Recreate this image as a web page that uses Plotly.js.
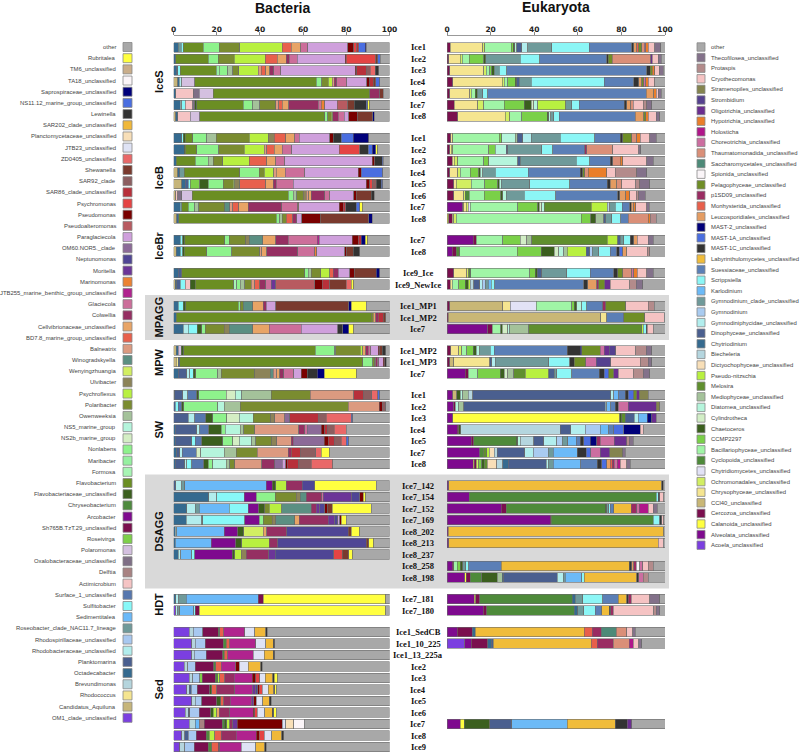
<!DOCTYPE html>
<html>
<head>
<meta charset="utf-8">
<script src="https://cdn.plot.ly/plotly-3.0.1.min.js"></script>
<style>
  html, body { margin: 0; padding: 0; background: #fff; }
  #chart { width: 800px; height: 752px; }
</style>
</head>
<body>
<div id="chart"></div>
<script>
// ---- Taxa, in legend order (top to bottom). Bars stack them in reverse order. ----
const bacNames = ['other', 'Rubritalea', 'TM6_unclassified', 'TA18_unclassified', 'Saprospiraceae_unclassified',
  'NS11.12_marine_group_unclassified', 'Lewinella', 'SAR202_clade_unclassified', 'Planctomycetaceae_unclassified',
  'JTB23_unclassified', 'ZD0405_unclassified', 'Shewanella', 'SAR92_clade', 'SAR86_clade_unclassified',
  'Psychromonas', 'Pseudomonas', 'Pseudoalteromonas', 'Paraglaciecola', 'OM60.NOR5._clade', 'Neptunomonas',
  'Moritella', 'Marinomonas', 'JTB255_marine_benthic_group_unclassified', 'Glaciecola', 'Colwellia',
  'Cellvibrionaceae_unclassified', 'BD7.8_marine_group_unclassified', 'Balneatrix', 'Winogradskyella',
  'Wenyingzhuangia', 'Ulvibacter', 'Psychroflexus', 'Polaribacter', 'Owenweeksia', 'NS5_marine_group',
  'NS2b_marine_group', 'Nonlabens', 'Maribacter', 'Formosa', 'Flavobacterium', 'Flavobacteriaceae_unclassified',
  'Chryseobacterium', 'Arcobacter', 'Sh765B.TzT.29_unclassified', 'Roseivirga', 'Polaromonas',
  'Oxalobacteraceae_unclassified', 'Delftia', 'Actimicrobium', 'Surface_1_unclassified', 'Sulfitobacter',
  'Sedimentitalea', 'Roseobacter_clade_NAC11.7_lineage', 'Rhodospirillaceae_unclassified',
  'Rhodobacteraceae_unclassified', 'Planktomarina', 'Octadecabacter', 'Brevundimonas', 'Rhodococcus',
  'Candidatus_Aquiluna', 'OM1_clade_unclassified'];
const bacKeys = ['oth', 'Rubri', 'TM6', 'TA18', 'Sapro', 'NS11', 'Lewi', 'S202', 'Planc', 'JTB23', 'ZD', 'Shew',
  'S92', 'S86', 'Psyro', 'Pmon', 'Palt', 'Parag', 'OM60', 'Nept', 'Mori', 'Marin', 'JTB255', 'Glac', 'Colw',
  'Cellv', 'BD78', 'Balne', 'Wino', 'Weny', 'Ulvi', 'Psyfl', 'Polar', 'Owen', 'NS5', 'NS2b', 'Nonl', 'Mari',
  'Form', 'Flavo', 'FlavU', 'Chrys', 'Arco', 'Sh765', 'Rosv', 'Polm', 'Oxal', 'Delf', 'Acti', 'Surf', 'Sulf',
  'Sedi', 'NAC', 'Rspir', 'Rbact', 'Plank', 'Octa', 'Brev', 'Rcoc', 'Aqui', 'OM1'];
const bacColors = ['#a8a8a8', '#ffff40', '#c9ad8a', '#fbf5f8', '#00007a', '#4a6ee0', '#333333', '#f0b83a',
  '#f8dfb8', '#dfe3f5', '#e96868', '#7a3a2e', '#8c5e60', '#b8303a', '#e44444', '#7a0000', '#b85a60', '#cfa0dc',
  '#8c6a98', '#4f4595', '#6c3598', '#ec8232', '#b0238e', '#cc6e9a', '#952f62', '#e8a466', '#e8604c', '#dc9a80',
  '#5b8f82', '#d2ee62', '#8c8358', '#b8f040', '#7a8c30', '#a4c29a', '#b5f5dc', '#d4eec4', '#8ef28c', '#96f0a0',
  '#a8f5b4', '#6b8e23', '#3b5f1e', '#4e8a3e', '#7e0a8e', '#7a0f4e', '#7ed04a', '#d4c0e0', '#7f6f86', '#a88282',
  '#f5c4c4', '#5677ae', '#88f8f8', '#6ab9f8', '#6f9a9a', '#a8c8f0', '#b2eded', '#4a5f8f', '#356a8f', '#b5d5dd',
  '#f5e590', '#c6b57a', '#7b3fe0'];

const eukNames = ['other', 'Thecofilosea_unclassified', 'Protaspis', 'Cryothecomonas', 'Stramenopiles_unclassified',
  'Strombidium', 'Oligotrichia_unclassified', 'Hypotrichia_unclassified', 'Holosticha',
  'Choreotrichia_unclassified', 'Thaumatomonadida_unclassified', 'Saccharomycetales_unclassified',
  'Spionida_unclassified', 'Pelagophyceae_unclassified', 'p1SD09_unclassified', 'Monhysterida_unclassified',
  'Leucosporidiales_unclassified', 'MAST-2_unclassified', 'MAST-1A_unclassified', 'MAST-1C_unclassified',
  'Labyrinthulomycetes_unclassified', 'Suessiaceae_unclassified', 'Scrippsiella', 'Karlodinium',
  'Gymnodinium_clade_unclassified', 'Gymnodinium', 'Gymnodiniphycidae_unclassified', 'Dinophyceae_unclassified',
  'Chytriodinium', 'Biecheleria', 'Dictyochophyceae_unclassified', 'Pseudo-nitzschia', 'Melosira',
  'Mediophyceae_unclassified', 'Diatomea_unclassified', 'Cylindrotheca', 'Chaetoceros', 'CCMP2297',
  'Bacillariophyceae_unclassified', 'Cyclopoida_unclassified', 'Chytridiomycetes_unclassified',
  'Ochromonadales_unclassified', 'Chrysophyceae_unclassified', 'CCl40_unclassified', 'Cercozoa_unclassified',
  'Calanoida_unclassified', 'Alveolata_unclassified', 'Acoela_unclassified'];
const eukKeys = ['oth', 'Theco', 'Prota', 'Cryo', 'Stram', 'Stromb', 'Oligo', 'Hypo', 'Holo', 'Chore', 'Thaum',
  'Sacch', 'Spion', 'Pelag', 'p1SD', 'Monh', 'Leuco', 'M2', 'M1A', 'M1C', 'Laby', 'Suess', 'Scrip', 'Karlo',
  'GymC', 'Gym', 'GymP', 'Dino', 'Chyd', 'Biech', 'Dicty', 'PsNi', 'Melo', 'Medio', 'Diat', 'Cyli', 'Chaet',
  'CCMP', 'Bacil', 'Cyclo', 'Chytm', 'Ochro', 'Chryso', 'CCl40', 'Cerco', 'Calan', 'Alveo', 'Acoel'];
const eukColors = ['#a8a8a8', '#83718a', '#b38b8b', '#f5c3c3', '#84844f', '#55418f', '#6b2e90', '#ea7e2a',
  '#b0168a', '#cc6ea0', '#da8f78', '#4d8a78', '#faf5f8', '#6f8e26', '#9a2c62', '#e85f4b', '#e49c62', '#00007a',
  '#4a6ee0', '#333333', '#f0bc3a', '#5b7fb6', '#8cf6f6', '#6cbaf7', '#6f9a9a', '#a9cbf0', '#b2eeee', '#4a5f8f',
  '#356a8f', '#b5d6df', '#f8dfb8', '#b8f040', '#5f8f2e', '#a4c29a', '#b5f5dc', '#d2eec6', '#3b5f1e', '#7ad048',
  '#a0f5a6', '#4e8a3a', '#e2e2f6', '#d2ee62', '#f5e590', '#c9b776', '#7a0f4e', '#ffff40', '#7e0a8e', '#7b3fe0'];

// ---- Sample groups ----
const groupNames = ['IceS', 'IceB', 'IceBr', '', 'MPAGG', 'MPW', 'SW', 'DSAGG', 'HDT', 'Sed'];
const shadedGroups = ['MPAGG', 'DSAGG'];
const samplesIceS = ['Ice1', 'Ice2', 'Ice3', 'Ice4', 'Ice6', 'Ice7', 'Ice8'];
const samplesIceB = ['Ice1', 'Ice2', 'Ice3', 'Ice4', 'Ice5', 'Ice6', 'Ice7', 'Ice8'];
const samplesIceBr = ['Ice7', 'Ice8'];
const samplesIce9 = ['Ice9_Ice', 'Ice9_NewIce'];
const samplesMPAGG = ['Ice1_MP1', 'Ice1_MP2', 'Ice7'];
const samplesMPW = ['Ice1_MP2', 'Ice1_MP3', 'Ice7'];
const samplesSW = ['Ice1', 'Ice2', 'Ice3', 'Ice4', 'Ice5', 'Ice7', 'Ice8'];
const samplesDSAGG = ['Ice7_142', 'Ice7_154', 'Ice7_152', 'Ice7_169', 'Ice8_202', 'Ice8_213', 'Ice8_237', 'Ice8_258', 'Ice8_198'];
const samplesHDT = ['Ice7_181', 'Ice7_180'];
const samplesSed = ['Ice1_SedCB', 'Ice1_10_225', 'Ice1_13_225a', 'Ice2', 'Ice3', 'Ice4', 'Ice5', 'Ice6', 'Ice7', 'Ice8', 'Ice9'];
const groupSamples = [samplesIceS, samplesIceB, samplesIceBr, samplesIce9, samplesMPAGG, samplesMPW,
  samplesSW, samplesDSAGG, samplesHDT, samplesSed];

// ---- Bacteria relative abundance (%), one object per sample, null = no data ----
const bacIceS = [
  {Octa: 2.3, Sulf: 1, NAC: 1.2, Flavo: 9.2, Nonl: 7.4, Polar: 9.5, Psyfl: 19.7, BD78: 4.2, Cellv: 4.3, Glac: 3.4, Parag: 18.5, Pmon: 2.8, Psyro: 1.4, S86: 0.9, NS11: 3, Sapro: 0.4, oth: 10.8},
  {Octa: 1, Flavo: 15, Nonl: 4.6, Polar: 7.4, Psyfl: 14.5, BD78: 5.4, Cellv: 4.3, Colw: 1.2, Glac: 3.8, Parag: 22.2, Pmon: 0.5, Psyro: 13.5, Shew: 1, NS11: 1.2, oth: 4.2},
  {Octa: 1.2, Plank: 0.8, Sulf: 1, Flavo: 16.5, Mari: 1.5, Nonl: 3.8, Owen: 2.3, Polar: 2.6, Psyfl: 9, Balne: 1.5, BD78: 2, Cellv: 1.8, Colw: 1.8, Glac: 3.2, Parag: 34, Pmon: 0.8, S86: 4.6, S92: 1.5, ZD: 2.3, Lewi: 1.5, oth: 5},
  {Aqui: 2, Octa: 0.6, Rbact: 1.2, Polm: 6, Flavo: 56, Nonl: 2.6, Polar: 3, Psyfl: 1.8, Balne: 1, Colw: 1, Glac: 4.6, Parag: 9.2, Pmon: 1.5, S86: 1.5, Shew: 1.2, NS11: 1.8, oth: 4.6},
  {Octa: 1, Acti: 8.2, Oxal: 2.6, Polm: 6.6, Flavo: 72.3, Colw: 4.6, Shew: 1.5, oth: 3},
  {Octa: 3, Sulf: 1.5, Rbact: 0.8, Acti: 3.5, Oxal: 1, FlavU: 0.8, Flavo: 21.5, Nonl: 4.3, Owen: 3.4, Polar: 7.4, Balne: 1.2, BD78: 1.8, Cellv: 3, Colw: 13.4, Glac: 1.5, Marin: 1.5, Parag: 5.8, Palt: 4.9, Shew: 3, Lewi: 5.4, NS11: 0.8, Rubri: 0.8, oth: 9.2},
  {Aqui: 1, Octa: 1, Acti: 5.8, Polm: 4.3, Flavo: 58, Nonl: 1.5, Polar: 1.5, Psyfl: 0.8, Colw: 2.6, Glac: 2.8, Parag: 2, Pmon: 4.2, Shew: 6.9, Sapro: 0.8, oth: 7}
];
const bacIceB = [
  {Octa: 3.8, Sulf: 0.8, FlavU: 0.8, Flavo: 3.5, Nonl: 6.5, Owen: 4.3, Polar: 15.4, Psyfl: 8.8, Ulvi: 2.8, BD78: 5.2, Cellv: 4.3, Glac: 2, Parag: 14.2, Pmon: 1.5, Lewi: 3.8, NS11: 5.4, Sapro: 7.2, oth: 9.7},
  {Octa: 4.9, FlavU: 0.5, Flavo: 5.4, Nonl: 10, Polar: 11.8, Psyfl: 9.2, Balne: 1.2, BD78: 3.5, Cellv: 3.8, Glac: 4.2, Parag: 22, Psyro: 9.5, Lewi: 3.8, NS11: 2, Sapro: 1.5, Rubri: 1, oth: 5.4},
  {Octa: 1.2, Flavo: 8.8, Nonl: 6.2, Owen: 2.3, Polar: 4.3, Psyfl: 12.3, BD78: 8, Cellv: 4.2, Glac: 4.3, Parag: 40.5, Pmon: 1, Lewi: 3.5, NS11: 0.6, oth: 2.8},
  {Aqui: 2, Octa: 1, NAC: 2, Flavo: 25.7, Nonl: 9, Polar: 2.3, Psyfl: 4.5, Balne: 1, Cellv: 4.2, Glac: 9.2, Parag: 24.6, Pmon: 1.5, NS11: 10, oth: 3.1},
  {Aqui: 3.8, Octa: 1.5, Plank: 1.5, Sulf: 0.8, Rosv: 4.6, FlavU: 3.8, Nonl: 6.9, Polar: 4.6, Psyfl: 0.8, Ulvi: 2.3, BD78: 11.8, Cellv: 3.5, Colw: 1.5, Glac: 7.7, Parag: 33.8, Pmon: 1.5, Psyro: 1.2, S92: 1.8, Lewi: 2.3, NS11: 0.8, oth: 3},
  {Aqui: 1, Acti: 0.9, Oxal: 1.8, Polm: 5, Flavo: 44, Nonl: 2.3, Owen: 1.5, Polar: 3, Ulvi: 1.5, Balne: 1.2, Cellv: 1, Colw: 6.2, Glac: 2.3, Parag: 11, Pmon: 1.2, Shew: 6.9, Lewi: 1.5, oth: 6.9},
  {Octa: 3, Sulf: 0.8, Flavo: 3, Nonl: 3, Owen: 1.8, Polar: 12, Wino: 2.3, Balne: 1.5, BD78: 2.8, Cellv: 4.2, Colw: 15.4, Glac: 7.4, Marin: 0.6, Parag: 18.6, Pmon: 1.8, S86: 1.2, Lewi: 4.9, NS11: 1.5, Rubri: 1.5, oth: 12.3},
  {Aqui: 1.5, Octa: 1, Flavo: 45, Nonl: 1.5, Owen: 1.2, Polar: 1.8, BD78: 3, Colw: 2, Parag: 2.2, Pmon: 8.5, Shew: 22.5, Sapro: 1.5, oth: 8}
];
const bacIceBr = [
  {Octa: 3, Sulf: 1.2, FlavU: 1, Flavo: 18.5, Nonl: 2, Polar: 7.7, Ulvi: 1.5, Wino: 6.2, Cellv: 6.2, Colw: 5.7, Glac: 13.4, JTB255: 0.8, Parag: 15.2, Pmon: 2.8, S86: 1.5, Sapro: 1.8, Rubri: 1.2, oth: 10},
  {Aqui: 1.2, Octa: 1.8, Sulf: 1.2, FlavU: 0.8, Flavo: 10.3, Nonl: 11.5, Polar: 13, Balne: 0.8, Cellv: 2.3, Colw: 14.3, Glac: 8, Marin: 0.8, Parag: 13, Pmon: 0.8, Shew: 3, Lewi: 3, oth: 13.8}
];
const bacIce9 = [
  {Octa: 2.3, Plank: 1.5, Flavo: 57, Nonl: 1.5, Owen: 1.5, Polar: 4.2, Psyfl: 4.3, BD78: 1.5, Colw: 2.3, Parag: 5.4, Pmon: 2.3, Shew: 10, Sapro: 1.5, oth: 4.6},
  {Aqui: 0.8, Octa: 0.8, Plank: 1.5, Sulf: 2.3, Acti: 2.3, FlavU: 2.3, Form: 1.5, Flavo: 17.7, Nonl: 1.5, Owen: 2.3, Polar: 3, Balne: 1.5, BD78: 2.3, Colw: 2.8, Glac: 2.6, Mori: 2, Palt: 18, Pmon: 3.5, S86: 3.4, Shew: 7.7, ZD: 2.3, Rubri: 1, oth: 16.6}
];
const bacMPAGG = [
  {Octa: 2.3, Sulf: 2.3, FlavU: 1, Flavo: 24.3, Nonl: 0.8, Polar: 1.5, Wino: 4.3, Cellv: 4.9, Colw: 1.5, Parag: 4.3, Shew: 33.8, Sapro: 1, Rubri: 6.9, oth: 10.8},
  {Octa: 1.2, Flavo: 90, Polar: 1, Cellv: 1.2, Colw: 1, S86: 2.3, Shew: 1.2, oth: 1.8},
  {Octa: 4.6, Rbact: 2.3, Sulf: 4.2, FlavU: 2, Nonl: 1.5, Polar: 8.9, Ulvi: 2.3, Wino: 10.8, Cellv: 7.7, Glac: 14.9, Parag: 16.9, Lewi: 2.3, Sapro: 2.8, Rubri: 2.3, oth: 16.5}
];
const bacMPW = [
  {Aqui: 1.2, Octa: 1, Polm: 1.5, FlavU: 1, Flavo: 61, Nonl: 9, Owen: 0.5, Polar: 11.2, Psyfl: 1.2, Cellv: 1.5, Colw: 1, Glac: 1.2, Parag: 3.4, Pmon: 0.8, Shew: 1.2, Lewi: 1.5, oth: 1.8},
  {Aqui: 1.2, Octa: 0.8, Rcoc: 1, Flavo: 85, Nonl: 4.8, Polar: 0.8, Cellv: 0.5, Colw: 0.8, Glac: 0.5, Parag: 2.3, Pmon: 0.5, Lewi: 0.8, oth: 1.5},
  {Octa: 2.3, Plank: 3.8, Rbact: 1.5, Sulf: 1.5, FlavU: 1.2, Nonl: 10, Owen: 1.8, Polar: 15.4, Ulvi: 7, Wino: 1.5, Balne: 1.5, Cellv: 1.5, Colw: 1.8, Glac: 4.6, Parag: 3.4, Pmon: 2.8, Lewi: 4.6, Sapro: 3.4, Rubri: 15, oth: 15}
];
const bacSW = [
  {Octa: 0.5, Plank: 3.8, Rbact: 2.2, Surf: 4.3, FlavU: 0.8, Nonl: 12.8, NS2b: 4.2, NS5: 3, Owen: 13.5, Polar: 18, Balne: 20, S86: 4.6, S92: 3.8, ZD: 2.8, NS11: 0.8, oth: 4.6},
  {Plank: 0.8, Sulf: 1.5, Surf: 1.5, FlavU: 1, Nonl: 15.7, NS5: 3, Owen: 7.4, Polar: 50, Balne: 14.2, Pmon: 1.5, S92: 1.5, oth: 1.8},
  {Plank: 6.9, Rbact: 3, Surf: 4.9, FlavU: 3.2, Nonl: 6.5, NS2b: 5.8, NS5: 6.5, Polar: 8, Ulvi: 2, Balne: 4.6, OM60: 2.3, S86: 13, S92: 3.8, ZD: 11.5, NS11: 0.8, oth: 16.9},
  {Octa: 0.8, Plank: 10, Rbact: 1.2, Surf: 4.2, FlavU: 5.8, Nonl: 1.8, NS5: 6.9, Owen: 1.8, Polar: 5, Balne: 20.3, Colw: 2.8, Glac: 1, OM60: 6.6, Pmon: 1.5, S86: 1.5, S92: 3, ZD: 5.4, oth: 20},
  {Octa: 0.8, Plank: 7.7, Sulf: 1.5, Surf: 3, FlavU: 9.7, Nonl: 4.6, NS2b: 3, NS5: 5.7, Owen: 2, Polar: 7.2, Ulvi: 2.3, Balne: 6.9, Colw: 0.8, OM60: 14.3, Pmon: 1.8, S86: 3, S92: 3, ZD: 2.3, NS11: 1.2, oth: 18.8},
  {Octa: 1.5, Plank: 1.5, Rbact: 1, Surf: 6.6, NS2b: 2, NS5: 10.8, Owen: 5.7, Polar: 9.7, Balne: 14.2, Colw: 1.5, S86: 4.3, S92: 6.9, ZD: 2.6, Rubri: 3.8, oth: 27.7},
  {Octa: 0.8, Plank: 4.3, Rbact: 1, Sulf: 2.3, Surf: 5.7, FlavU: 2, Nonl: 2, NS5: 6.2, Owen: 1.8, Polar: 2.3, Balne: 12.3, Colw: 6.2, OM60: 3.5, Parag: 1.5, Pmon: 0.6, S86: 5.5, S92: 5.7, ZD: 10, oth: 26.2}
];
const bacDSAGG = [
  {Plank: 1, Rbact: 2.8, NAC: 1.5, Sedi: 37.7, Arco: 2.8, FlavU: 1.5, Psyfl: 4.9, Colw: 7.4, Nept: 5.7, Rubri: 28.5, oth: 6.2},
  {Octa: 16.2, Rbact: 3.8, Sulf: 12.6, Arco: 5.5, Nonl: 8.8, Polar: 9.7, Ulvi: 1.8, Wino: 2.8, Colw: 7.2, Glac: 0.8, Mori: 13, Nept: 3.8, Pmon: 1.5, Rubri: 1.2, oth: 11},
  {Octa: 6.2, Rbact: 3.8, NAC: 1.8, Sedi: 14, Sulf: 8.8, Arco: 4.9, FlavU: 2.8, Polar: 2, Psyfl: 5.7, Wino: 13.8, Colw: 2.3, Mori: 1.5, Nept: 2.3, Pmon: 1.5, Shew: 2, Rubri: 18, oth: 8.5},
  {Octa: 5.8, Rbact: 7.2, NAC: 0.5, Sulf: 19.5, Arco: 6.6, Nonl: 1.8, Polar: 4.3, Ulvi: 1.5, Wino: 8.8, Cellv: 2, Colw: 13.4, Mori: 3, Nept: 1.5, Parag: 0.8, Pmon: 0.8, Rubri: 2.3, oth: 20},
  {Octa: 0.8, Rbact: 0.8, Sedi: 21.8, Arco: 6.2, FlavU: 2.8, Weny: 9.2, Cellv: 1.5, Colw: 9.2, Nept: 28.5, Shew: 1.5, Rubri: 3.8, oth: 13.8},
  {Octa: 0.8, Sedi: 16.6, Arco: 11.4, FlavU: 2.8, Psyfl: 12.8, Colw: 3.8, Nept: 41, Shew: 1.2, Rubri: 2.2, oth: 7.4},
  {Octa: 2.3, Rbact: 1, Sedi: 5, Sulf: 1.5, Arco: 17.2, FlavU: 1.2, Psyfl: 3, Ulvi: 2.3, Colw: 10.5, Mori: 3, Nept: 27, Psyro: 3.8, Shew: 3, Rubri: 1.8, oth: 17},
  null,
  null
];
const bacHDT = [
  {Octa: 1, Rbact: 1.5, NAC: 3.4, Sedi: 33.6, Sh765: 2.3, Rubri: 56.8, oth: 1.8},
  {OM1: 1, Rbact: 1, NAC: 0.8, Sedi: 6.5, Sulf: 0.8, Sh765: 1.8, Rubri: 86.6, oth: 1.8}
];
const bacSed = [
  {OM1: 7.2, Brev: 2, Rspir: 4.3, Sh765: 7.2, Chrys: 0.8, BD78: 1.8, JTB255: 9.7, JTB23: 4.6, S202: 5, Lewi: 0.8, oth: 56.5},
  {OM1: 8.5, Brev: 1.5, Rspir: 4.6, Sh765: 8.5, Chrys: 1.2, BD78: 1.8, JTB255: 12, JTB23: 4.6, S202: 3.4, Lewi: 0.8, oth: 53},
  {OM1: 8.5, Brev: 1.2, Rspir: 5.4, Sh765: 7.7, Chrys: 0.6, BD78: 1.7, JTB255: 11.8, JTB23: 5, S202: 4.2, Lewi: 0.8, oth: 53},
  {OM1: 4.9, Brev: 1.7, Rspir: 3.4, Sh765: 8.5, Chrys: 1, BD78: 2.5, JTB255: 6.9, Pmon: 1.5, JTB23: 4.2, S202: 5.8, Lewi: 0.6, oth: 58.9},
  {OM1: 7.4, Brev: 1.5, Rspir: 3.4, Rosv: 1, Sh765: 6.2, Chrys: 1, Psyfl: 1, BD78: 2.3, Colw: 4.3, JTB255: 8.5, Pmon: 1.5, Psyro: 2, JTB23: 2.6, S202: 3.5, Lewi: 0.6, Rubri: 1.5, oth: 52},
  {OM1: 6.2, Brev: 1, Rspir: 2.8, Plank: 1, Sh765: 5.8, FlavU: 0.8, BD78: 2.3, Colw: 8.3, JTB255: 8.5, Mori: 1.2, Nept: 1, Pmon: 0.8, Psyro: 1.2, JTB23: 2.8, S202: 2.6, Lewi: 0.5, Rubri: 1, oth: 52},
  {OM1: 8.5, Brev: 1.5, Rspir: 3, Sh765: 7, FlavU: 1.8, BD78: 1.5, Colw: 2.8, JTB255: 10, Mori: 1, Pmon: 1, JTB23: 3, S202: 3, Lewi: 1, oth: 54.6},
  {OM1: 5.4, Brev: 1.5, Rspir: 4.3, Plank: 0.6, Sh765: 5.4, FlavU: 1.2, Psyfl: 1.5, Cellv: 1.2, Colw: 4.9, JTB255: 10.8, Pmon: 0.8, Psyro: 1.2, JTB23: 3.4, S202: 3.5, Lewi: 0.6, Rubri: 1.2, oth: 52.3},
  {OM1: 7.2, Brev: 2.8, Sedi: 1.8, Delf: 2.3, Sh765: 8.2, Chrys: 1, FlavU: 1.2, Psyfl: 1.2, Colw: 1.5, Mori: 2, Pmon: 20.8, JTB23: 1.5, Planc: 3.7, TA18: 4.9, oth: 39},
  {OM1: 3.8, Brev: 1.5, Rspir: 3.8, Plank: 1.5, Sh765: 4.6, Chrys: 1.2, Psyfl: 2.6, BD78: 3, Colw: 6.9, JTB255: 9.2, Pmon: 1.5, Psyro: 2.3, JTB23: 3.5, S202: 4.6, Lewi: 0.8, oth: 48.8},
  {OM1: 3, Brev: 2.3, Rspir: 4.2, Sh765: 6.6, Chrys: 1.5, BD78: 3, Colw: 0.8, JTB255: 10, JTB23: 6.6, S202: 4.2, Lewi: 0.8, oth: 57}
];
const bacGroups = [bacIceS, bacIceB, bacIceBr, bacIce9, bacMPAGG, bacMPW, bacSW, bacDSAGG, bacHDT, bacSed];

// ---- Eukaryota relative abundance (%) ----
const eukIceS = [
  {Cerco: 1.5, Chryso: 14.8, Ochro: 0.9, Bacil: 12.2, CCMP: 1, Chaet: 0.5, Diat: 1, Dino: 2.3, GymP: 2.8, GymC: 11, Scrip: 17.1, Suess: 19.5, M1C: 0.8, Pelag: 1.5, Leuco: 1.5, Monh: 0.8, Thaum: 1, Hypo: 1.2, Chore: 0.8, Cryo: 3, Theco: 2.6, oth: 2},
  {Cerco: 0.8, Chryso: 5.3, Ochro: 0.8, Bacil: 3.4, CCMP: 6.6, Chaet: 0.8, GymC: 16, Scrip: 8.9, Suess: 30.8, M1C: 0.8, Pelag: 1.8, Thaum: 17.6, Oligo: 0.8, Cryo: 2.8, Theco: 1.2, oth: 1.8},
  {Cerco: 1.2, Chryso: 15.6, Ochro: 1.2, Bacil: 1.5, CCMP: 1, Chaet: 1, GymC: 2.5, Scrip: 3.4, Suess: 64, M1C: 1.5, Pelag: 1, Hypo: 1.2, Cryo: 2, Theco: 1.8, oth: 0.8},
  {Cerco: 2.6, Chryso: 22.6, Ochro: 1, Bacil: 1.5, CCMP: 3.5, Chaet: 0.8, Dino: 1, GymC: 5.5, Scrip: 33.4, Suess: 13.4, M1C: 2.3, Pelag: 0.8, Leuco: 1.5, Hypo: 1.2, Chore: 1, Cryo: 3, oth: 4.6},
  {Cerco: 1.2, Chryso: 9.2, Ochro: 0.8, Bacil: 1.8, Chaet: 0.8, GymC: 2.6, Scrip: 2.3, Suess: 72.7, Leuco: 3.4, Hypo: 1.2, Cryo: 1, Theco: 1.2, oth: 1.8},
  {Cerco: 3.4, Chryso: 10.7, Ochro: 2.7, Bacil: 9.5, CCMP: 9.2, Chaet: 3, Cyli: 1.2, Diat: 1.8, PsNi: 13, GymC: 2.7, Scrip: 3.4, Suess: 20.6, M1C: 1.2, Leuco: 1.8, Thaum: 1.2, Cryo: 4.6, Prota: 1.5, Theco: 2.3, oth: 6.1},
  {Cerco: 4.9, Chryso: 21.8, Ochro: 2, Bacil: 5.6, CCMP: 11.5, Chaet: 0.8, Diat: 1, GymC: 1.2, Scrip: 2.7, Suess: 34.7, Leuco: 3.8, Pelag: 1, Hypo: 1.2, Cryo: 3.5, Theco: 1.8, oth: 2.3}
];
const eukIceB = [
  {Cerco: 1.8, Chryso: 0.8, Bacil: 21.4, CCMP: 1.2, Diat: 6.1, Medio: 0.8, Dino: 2.7, GymP: 3.8, GymC: 13.3, Scrip: 15.7, Suess: 11.8, M1C: 1.2, Pelag: 4.1, Thaum: 2.3, Hypo: 1.5, Cryo: 4.3, Theco: 3, oth: 4.1},
  {Cerco: 1.2, Chryso: 0.8, Ochro: 0.6, Bacil: 16.5, CCMP: 3, Diat: 5, Dino: 0.6, GymC: 15.7, Scrip: 4.9, Suess: 14.7, p1SD: 1, Thaum: 11.8, Cryo: 11.9, Theco: 1, oth: 11.1},
  {Cerco: 2.3, Chryso: 1, Ochro: 1.5, Bacil: 11.9, CCMP: 2.3, Diat: 13.3, Dino: 1.2, GymC: 25.6, Scrip: 6.1, Suess: 9.5, M1C: 1, Thaum: 3.5, Hypo: 1.2, Cryo: 11, Theco: 3, oth: 5.3},
  {Cerco: 1.2, Chryso: 3.7, Ochro: 1.2, Bacil: 4.6, CCMP: 3.8, Chaet: 0.8, Diat: 1.2, GymC: 5.6, Scrip: 15.3, Suess: 24, M1C: 1, Pelag: 1, Thaum: 1.7, Hypo: 8.4, Cryo: 3.8, Prota: 10, Theco: 4.6, oth: 8.4},
  {Cerco: 3, Chryso: 1.2, Ochro: 6.9, Bacil: 6.1, CCMP: 6, Chaet: 0.8, Diat: 0.9, GymC: 13, Scrip: 18.3, Suess: 17.4, M1C: 1.2, Leuco: 3, Thaum: 2.3, Cryo: 6.4, Prota: 2, Theco: 4.6, oth: 6.9},
  {Cerco: 3, Chryso: 4.6, Ochro: 0.8, Cyclo: 1.8, Bacil: 6.9, CCMP: 7.6, Chaet: 0.9, Diat: 1.5, GymC: 8.2, Scrip: 14.5, Suess: 28.4, M1C: 1, Leuco: 2.7, Hypo: 1.8, Cryo: 3, Prota: 1.2, Theco: 3, oth: 9},
  {Alveo: 7.2, Calan: 0.5, Chryso: 1, Ochro: 1, Chytm: 0.8, Bacil: 21.7, CCMP: 8.9, Chaet: 0.8, Cyli: 1.2, Diat: 1.1, Melo: 21.4, PsNi: 7.2, Biech: 1, GymC: 2.7, Scrip: 3, Suess: 3.4, M1C: 0.8, Leuco: 1, Hypo: 1, Cryo: 4.9, Theco: 1.2, oth: 7.2},
  {Cerco: 1.5, Calan: 0.8, Chryso: 0.8, Ochro: 1.2, Bacil: 57, CCMP: 4.4, Chaet: 2.4, Medio: 3.7, Dino: 0.9, GymC: 2.7, Scrip: 4, Suess: 3.5, Thaum: 9.2, Hypo: 0.8, Prota: 2.7, oth: 4.1}
];
const eukIceBr = [
  {Alveo: 11.9, Cerco: 1.5, Bacil: 12.2, CCMP: 7.9, Cyli: 3, Medio: 2.3, Melo: 34.4, PsNi: 4.9, Dino: 1.2, GymC: 1.5, Scrip: 3, M1C: 1.5, Leuco: 1.8, Cryo: 5, Theco: 2.3, oth: 5.3},
  {Alveo: 2.3, Cerco: 2, Cyclo: 1.5, Bacil: 26.3, CCMP: 11, Chaet: 6.1, Cyli: 2, Diat: 2.3, Medio: 1.5, PsNi: 8.7, Dino: 1.7, Gym: 1, GymC: 3, Scrip: 5.3, Suess: 3, M1C: 1.2, M1A: 1.5, Leuco: 1.8, Cryo: 9.5, Prota: 1.2, oth: 6.9}
];
const eukIce9 = [
  {Cerco: 3, Chryso: 6.1, Ochro: 0.8, Cyclo: 1, Bacil: 26.9, CCMP: 2.6, Chaet: 1, Dino: 2, GymC: 11.5, Scrip: 10.7, Suess: 10.7, M1C: 1.8, Pelag: 2.4, Thaum: 4.1, Chore: 0.8, Hypo: 1.8, Cryo: 4.3, Theco: 3, oth: 5.3},
  {Cerco: 1.5, Chryso: 0.8, Bacil: 3, CCMP: 3, Chaet: 1.5, PsNi: 1, Biech: 1.5, Dino: 2.7, GymP: 1.2, Gym: 1.5, GymC: 1.2, Karlo: 1.5, Scrip: 1.5, Suess: 41, M1C: 1.8, Leuco: 4.2, Pelag: 2.6, p1SD: 1, Oligo: 2.7, Cryo: 8.9, Prota: 3, Theco: 3, oth: 10.2}
];
const eukMPAGG = [
  {Cerco: 1.2, CCl40: 24.4, Chryso: 3.4, Chytm: 11.9, Bacil: 16.3, CCMP: 1, Chaet: 1.2, Diat: 2.3, Scrip: 2.3, Suess: 7.3, Pelag: 9.2, p1SD: 1.4, Cryo: 10.4, Prota: 2.6, oth: 5},
  {Cerco: 0.5, CCl40: 70, Chryso: 2.7, Suess: 7.9, Pelag: 9.6, Cryo: 8.9, oth: 0.4},
  {Alveo: 18.6, Cerco: 2, Chaet: 0.8, Bacil: 3.8, Cyli: 2.4, Diat: 1, Medio: 8.5, Melo: 51.5, PsNi: 0.8, Scrip: 1.2, M1C: 0.6, Cryo: 2.7, oth: 5.3}
];
const eukMPW = [
  {Cerco: 1.8, Chryso: 3.5, Ochro: 1.5, Bacil: 2.3, CCMP: 3, Chaet: 1.2, Diat: 1.8, GymC: 4.6, Scrip: 2, Suess: 33.4, M1C: 5.8, M2: 0.8, Pelag: 8.4, Chore: 1.8, Oligo: 2.4, Stromb: 3, Cryo: 9.2, Prota: 4.6, Theco: 2.6, oth: 6.1},
  {Cerco: 1.2, CCl40: 1.8, Chryso: 16.5, Dino: 1, GymP: 1.5, GymC: 24.4, Scrip: 9.6, M1C: 2.1, Pelag: 5.3, Chore: 4.7, Stromb: 6.7, Cryo: 13.4, Prota: 3.8, Theco: 1.5, oth: 6.1},
  {Alveo: 8.4, Cerco: 1.2, Bacil: 4.4, CCMP: 10.4, Chaet: 1.8, Cyli: 1.5, Medio: 2.7, Melo: 5.3, PsNi: 10.7, Dino: 2.6, GymC: 1.2, Scrip: 6.8, Suess: 12.5, M1C: 2.3, M1A: 2, Pelag: 2.3, Oligo: 2, Cryo: 6.9, Prota: 4.6, Theco: 3, oth: 6.9}
];
const eukSW = [
  {Alveo: 2.7, CCl40: 1.8, Chaet: 1.5, Medio: 2.6, Diat: 1.2, Biech: 2, Dino: 63.2, GymP: 1.2, Karlo: 2.3, Suess: 3, M1C: 1.5, M1A: 2.3, Pelag: 1.5, Oligo: 1.2, Stram: 4.1, oth: 7.6},
  {Alveo: 3, Cerco: 0.8, Medio: 2.3, Diat: 1.5, Dino: 64.9, GymP: 0.8, Karlo: 1.8, Suess: 2, M1C: 1.5, Chore: 4.6, Oligo: 12.7, Stram: 1.8, oth: 2.3},
  {Alveo: 2.6, Calan: 76.5, Melo: 1.5, Chaet: 1, Dino: 4.3, GymP: 1.8, Karlo: 4.1, M2: 2, Oligo: 2, oth: 4.1},
  {Alveo: 4.6, Cerco: 0.8, Chaet: 1, Biech: 45.5, Dino: 4.9, GymP: 6.6, Gym: 6.9, Karlo: 3.8, Suess: 2.3, M1A: 4.6, M2: 7.6, Cryo: 1.5, oth: 9.9},
  {Alveo: 11, Cerco: 1.2, Cyclo: 19.5, Chaet: 0.6, Diat: 1.2, Biech: 6.1, Dino: 4.6, GymP: 6.1, Gym: 2.3, GymC: 2.6, Karlo: 4, Suess: 1.8, M1C: 1.5, M1A: 3, M2: 3, p1SD: 1.5, Chore: 6.4, Oligo: 5.8, Prota: 1.2, Theco: 1.8, oth: 14.5},
  {Alveo: 15, Cyclo: 1.5, Melo: 1.8, PsNi: 1, Dicty: 2.3, Biech: 1.4, Dino: 12.7, GymP: 3.8, Gym: 6.9, GymC: 2.3, Karlo: 11, M1C: 4, M1A: 2.1, Chore: 4.3, Oligo: 4.3, Stram: 6.1, Theco: 1, oth: 18.3},
  {Alveo: 11.9, Calan: 0.6, Cerco: 0.9, Ochro: 1.1, CCMP: 1.5, Chaet: 1, Melo: 1.5, Dicty: 4.3, Biech: 2.7, Chyd: 2.6, Dino: 17.3, GymP: 1, GymC: 2.3, Karlo: 12.5, Suess: 7.6, M1C: 2, M1A: 2.3, Leuco: 1.5, Monh: 1, p1SD: 1, Chore: 1.3, Holo: 1.3, Cryo: 3, Theco: 1.5, oth: 16}
];
const eukDSAGG = [
  {Alveo: 0.9, Laby: 97.6, M1C: 0.7, oth: 0.8},
  {Alveo: 10.2, Cyclo: 85.6, Scrip: 1, M1C: 0.8, Cryo: 1.5, oth: 0.8},
  {Alveo: 24.9, Cerco: 2.3, Chaet: 0.6, Cyclo: 45.5, GymC: 0.8, Scrip: 0.8, Suess: 1.5, Laby: 8.1, p1SD: 2.6, Chore: 1.2, Holo: 4.1, Cryo: 2.3, Theco: 1.8, oth: 3.5},
  {Alveo: 47.3, Cerco: 0.5, Cyclo: 46.9, Scrip: 3, M1C: 0.8, Cryo: 1, oth: 0.5},
  {Alveo: 0.5, Laby: 99, oth: 0.5},
  {Alveo: 0.8, Laby: 96.2, Cryo: 2.3, oth: 0.7},
  null,
  {Alveo: 2.3, Cerco: 0.8, Bacil: 1.5, CCMP: 1.5, Chaet: 1.2, GymC: 1.4, Scrip: 1.2, Suess: 15, Laby: 59, M1C: 1, Leuco: 1, p1SD: 1.2, Spion: 1.5, Chore: 1.5, Cryo: 2.6, Prota: 2.3, oth: 5.3},
  {Alveo: 8.1, Calan: 0.6, Cerco: 2, Cyclo: 5.3, Chaet: 6.9, Medio: 2.3, Chyd: 0.8, Dino: 24.4, GymP: 2.7, GymC: 1, Karlo: 7.6, Scrip: 1, Laby: 24.1, M1C: 1, Chore: 2, Prota: 2.3, oth: 7.6}
];
const eukHDT = [
  {Alveo: 12.5, Calan: 0.8, Cerco: 1.7, Cyclo: 42.6, Chyd: 1.2, GymC: 3.5, Scrip: 9.2, Suess: 7.2, Laby: 3.8, M1C: 0.8, p1SD: 1.2, Cryo: 8.7, Theco: 4.6, oth: 2.3},
  {Alveo: 16.5, Cerco: 1.8, Cyclo: 40, Chyd: 1.5, GymC: 2.7, Scrip: 5.3, Suess: 3, Laby: 3.5, M1C: 0.6, p1SD: 1.2, Cryo: 18.6, Prota: 1, Theco: 1.8, oth: 2.3}
];
const eukSed = [
  {Alveo: 4.6, Cerco: 6.9, Chyd: 1.5, Laby: 50, Monh: 3.7, p1SD: 4, Sacch: 6.9, Thaum: 4.9, Cryo: 2.6, Theco: 1.2, oth: 13.7},
  {Acoel: 8.1, Alveo: 3, Cerco: 7.6, Dino: 1, Chyd: 1.5, Laby: 44.7, Monh: 2.9, p1SD: 7.3, Thaum: 7.3, Holo: 1.8, Cryo: 2.6, Theco: 1.2, oth: 10.7},
  null, null, null, null, null, null,
  {Alveo: 6.1, Calan: 1.8, Chaet: 11.6, Dino: 10.2, Karlo: 25.5, Laby: 21.8, M1C: 5.6, Oligo: 2, oth: 15.3},
  null, null
];
const eukGroups = [eukIceS, eukIceB, eukIceBr, eukIce9, eukMPAGG, eukMPW, eukSW, eukDSAGG, eukHDT, eukSed];

// ---- Page geometry (pixels of the 800x752 figure) ----
const W = 800, H = 752;
const AXIS_TOP = 36;          // pixel row of the top x axes
const FIRST_ROW = 47.5;       // pixel centre of the first bar
const ROW_PX = 11.5;          // pixels per row
const GROUP_GAP = 0.87;       // extra rows between groups
const px = v => v / W;
const py = v => 1 - v / H;

// row positions along the y axis
const rowPos = [], rowLabel = [], groupSpan = [];
let pos = 0;
groupSamples.forEach((samples, g) => {
  if (g > 0) pos += 1 + GROUP_GAP;
  const start = pos;
  samples.forEach((s, i) => {
    if (i > 0) pos += 1;
    rowPos.push(pos);
    rowLabel.push(s);
  });
  groupSpan.push([start, pos]);
});

function makeTraces(keys, names, colors, groups, xaxis) {
  const rows = [].concat(...groups);
  rows.forEach(r => r && Object.keys(r).forEach(k => {
    if (!keys.includes(k)) console.warn('unknown taxon key', k);
  }));
  // each sample is shown as relative abundance, so rescale to 100
  const sums = rows.map(r => r ? Object.values(r).reduce((a, b) => a + b, 0) : 0);
  const traces = [];
  for (let i = keys.length - 1; i >= 0; i--) {
    const x = [], y = [];
    rows.forEach((r, j) => {
      if (r && r[keys[i]]) {
        x.push(r[keys[i]] * 100 / sums[j]);
        y.push(rowPos[j]);
      }
    });
    if (!x.length) continue;
    traces.push({
      type: 'bar', orientation: 'h', xaxis: xaxis, yaxis: 'y',
      name: names[i], x: x, y: y, width: 0.82,
      marker: {color: colors[i], line: {color: '#6a6a6a', width: 0.6}},
      showlegend: false,
      hovertemplate: names[i] + ': %{x:.1f}%<extra></extra>'
    });
  }
  return traces;
}

const traces = makeTraces(bacKeys, bacNames, bacColors, bacGroups, 'x')
  .concat(makeTraces(eukKeys, eukNames, eukColors, eukGroups, 'x2'));

const xCommon = {
  range: [0, 100], side: 'top', tickvals: [0, 20, 40, 60, 80, 100],
  ticks: 'outside', ticklen: 3, tickcolor: '#888', tickwidth: 1,
  ticklabelstandoff: -3,
  showline: true, linecolor: '#999', linewidth: 1,
  showgrid: false, zeroline: false, fixedrange: true,
  tickfont: {family: 'DejaVu Sans', size: 7.5, color: '#222', weight: 'bold'}
};

const annotations = [];
const shapes = [];
const legendFont = {family: 'Liberation Sans', size: 5.9, color: '#444'};

// panel titles
annotations.push({x: px(282), y: py(8), xref: 'paper', yref: 'paper', text: 'Bacteria', showarrow: false,
  xanchor: 'center', yanchor: 'middle',
  font: {family: 'Liberation Sans', size: 14, color: '#111', weight: 'bold'}});
annotations.push({x: px(556), y: py(7), xref: 'paper', yref: 'paper', text: 'Eukaryota', showarrow: false,
  xanchor: 'center', yanchor: 'middle',
  font: {family: 'Liberation Sans', size: 14, color: '#111', weight: 'bold'}});

// sample labels in the middle column
rowPos.forEach((p, i) => {
  annotations.push({x: px(418), y: p, xref: 'paper', yref: 'y', text: rowLabel[i], showarrow: false,
    xanchor: 'center', yanchor: 'middle',
    font: {family: 'Liberation Serif', size: 8.5, color: '#111', weight: 'bold'}});
});

// group labels and shaded groups
groupNames.forEach((g, i) => {
  const [a, b] = groupSpan[i];
  if (g) {
    annotations.push({x: px(159), y: (a + b) / 2, xref: 'paper', yref: 'y', text: g, showarrow: false,
      textangle: -90, xanchor: 'center', yanchor: 'middle',
      font: {family: 'Liberation Sans', size: 11, color: '#111', weight: 'bold'}});
  }
  if (shadedGroups.includes(g)) {
    shapes.push({type: 'rect', layer: 'below', xref: 'paper', yref: 'y', x0: px(145), x1: px(669),
      y0: a - 0.96, y1: b + 0.96, fillcolor: '#d9d9d9', line: {width: 0}});
  }
});

// left legend (bacteria): label right-aligned, swatch to its right
bacNames.forEach((n, i) => {
  const cy = 47 + i * 11.18;
  shapes.push({type: 'rect', xref: 'paper', yref: 'paper', x0: px(123), x1: px(132),
    y0: py(cy + 4.5), y1: py(cy - 4.5), fillcolor: bacColors[i], line: {color: '#888', width: 0.8}});
  annotations.push({x: px(118), y: py(cy), xref: 'paper', yref: 'paper', text: n, showarrow: false,
    xanchor: 'right', yanchor: 'middle', font: legendFont});
});

// right legend (eukaryota): swatch, then label
eukNames.forEach((n, i) => {
  const cy = 47 + i * 10.6;
  shapes.push({type: 'rect', xref: 'paper', yref: 'paper', x0: px(697), x1: px(705),
    y0: py(cy + 4.2), y1: py(cy - 4.2), fillcolor: eukColors[i], line: {color: '#888', width: 0.8}});
  annotations.push({x: px(709), y: py(cy), xref: 'paper', yref: 'paper', text: n, showarrow: false,
    xanchor: 'left', yanchor: 'middle', font: legendFont});
});

const layout = {
  width: W, height: H,
  margin: {l: 0, r: 0, t: 0, b: 0},
  paper_bgcolor: '#ffffff', plot_bgcolor: 'rgba(0,0,0,0)',
  font: {family: 'DejaVu Sans', color: '#222'},
  barmode: 'stack', showlegend: false,
  xaxis: Object.assign({}, xCommon, {domain: [px(173.5), px(389.5)], anchor: 'y'}),
  xaxis2: Object.assign({}, xCommon, {domain: [px(447), px(665)], anchor: 'y'}),
  yaxis: {
    domain: [0, py(AXIS_TOP)],
    range: [(H - FIRST_ROW) / ROW_PX, (AXIS_TOP - FIRST_ROW) / ROW_PX],
    visible: false, fixedrange: true
  },
  shapes: shapes,
  annotations: annotations
};

Plotly.newPlot('chart', traces, layout, {displayModeBar: false});
</script>
</body>
</html>
